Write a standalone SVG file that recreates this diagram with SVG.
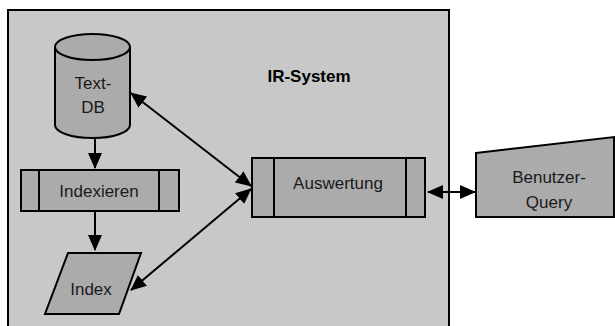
<svg xmlns="http://www.w3.org/2000/svg" width="615" height="326" viewBox="0 0 615 326">
<defs>
<style>
.sh{fill:#ababab;stroke:#000;stroke-width:2}
.ln{fill:none;stroke:#000;stroke-width:2}
.t{font-family:"Liberation Sans",Arial,sans-serif;font-size:17px;fill:#1a1a1a;text-anchor:middle}
.b{font-weight:bold;fill:#000}
</style>
<marker id="ah" markerUnits="userSpaceOnUse" markerWidth="16" markerHeight="14" refX="15" refY="7" orient="auto-start-reverse" viewBox="0 0 16 14">
<path d="M0,0 L16,7 L0,14 Z" fill="#000"/>
</marker>
</defs>
<g id="ir-system">
<rect x="8" y="10" width="441" height="330" fill="#c8c8c8" stroke="#000" stroke-width="2"/>
<text class="t b" x="309" y="82">IR-System</text>
</g>
<g id="textdb">
<path class="sh" d="M55,47 L55,125 A37.5,13 0 0 0 130,125 L130,47 A37.5,13 0 0 0 55,47 Z"/>
<path class="ln" d="M55,47 A37.5,13 0 0 0 130,47"/>
<text class="t" x="93" y="89">Text-</text>
<text class="t" x="93" y="113">DB</text>
</g>
<g id="indexieren">
<rect class="sh" x="21" y="170" width="158" height="41"/>
<line class="ln" x1="39" y1="170" x2="39" y2="211"/>
<line class="ln" x1="159" y1="170" x2="159" y2="211"/>
<text class="t" x="99" y="197">Indexieren</text>
</g>
<g id="index">
<polygon class="sh" points="68,253 141,253 119,314 45,314"/>
<text class="t" x="91" y="295">Index</text>
</g>
<g id="auswertung">
<rect class="sh" x="252" y="158" width="173" height="59"/>
<line class="ln" x1="274" y1="158" x2="274" y2="217"/>
<line class="ln" x1="406" y1="158" x2="406" y2="217"/>
<text class="t" x="338" y="189">Auswertung</text>
</g>
<g id="benutzer-query">
<polygon class="sh" points="476,153 614,137 614,217 476,217"/>
<text class="t" x="549" y="183">Benutzer-</text>
<text class="t" x="549" y="208">Query</text>
</g>
<g id="connectors">
<line class="ln" x1="95" y1="138" x2="95" y2="168" marker-end="url(#ah)"/>
<line class="ln" x1="95" y1="211" x2="95" y2="250" marker-end="url(#ah)"/>
<line class="ln" x1="131" y1="93" x2="251" y2="186" marker-start="url(#ah)" marker-end="url(#ah)"/>
<line class="ln" x1="131" y1="290" x2="251" y2="189" marker-start="url(#ah)" marker-end="url(#ah)"/>
<line class="ln" x1="428" y1="192" x2="475" y2="192" marker-start="url(#ah)" marker-end="url(#ah)"/>
</g>
</svg>
